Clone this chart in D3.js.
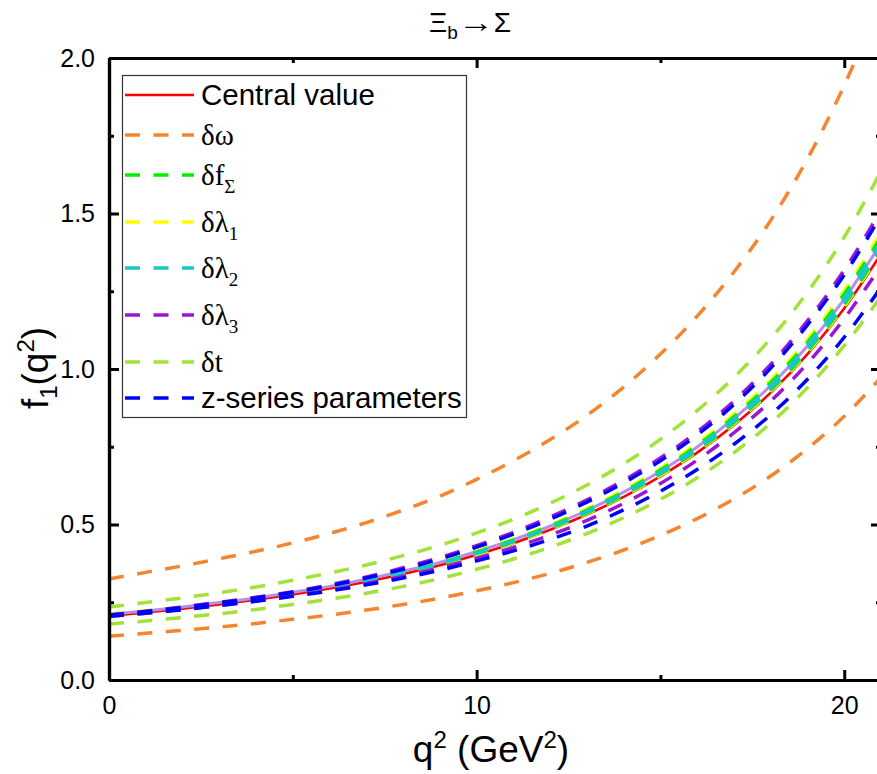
<!DOCTYPE html>
<html>
<head>
<meta charset="utf-8">
<script src="https://cdn.jsdelivr.net/npm/d3@7/dist/d3.min.js"></script>
<style>
  html, body { margin: 0; padding: 0; background: #fff; }
  svg { display: block; }
</style>
</head>
<body>
<svg id="chart" width="877" height="774"></svg>
<script>
// ---------------- data ----------------
const q2 = [0,1,2,3,4,5,6,7,8,9,10,11,12,13,14,15,16,17,18,19,20,21];

const central   = [0.206,0.217,0.229,0.243,0.258,0.275,0.294,0.316,0.341,0.369,0.403,0.440,0.483,0.532,0.589,0.655,0.731,0.820,0.924,1.048,1.195,1.370];
const lavender  = [0.211,0.222,0.235,0.249,0.264,0.282,0.301,0.324,0.350,0.378,0.413,0.451,0.495,0.545,0.604,0.671,0.749,0.841,0.947,1.074,1.225,1.404];

const omegaUp   = [0.325,0.346,0.367,0.390,0.414,0.441,0.471,0.506,0.546,0.591,0.645,0.705,0.773,0.851,0.942,1.048,1.170,1.312,1.478,1.676,1.912,2.190];
const omegaLo   = [0.141,0.150,0.160,0.170,0.182,0.195,0.209,0.225,0.243,0.263,0.287,0.313,0.343,0.378,0.418,0.465,0.519,0.582,0.656,0.744,0.848,0.973];

const fSigUp    = [0.209,0.220,0.232,0.246,0.262,0.279,0.298,0.321,0.347,0.376,0.412,0.450,0.495,0.546,0.606,0.675,0.754,0.847,0.956,1.086,1.241,1.425];
const fSigLo    = [0.206,0.217,0.229,0.243,0.258,0.275,0.295,0.318,0.344,0.373,0.407,0.444,0.488,0.537,0.595,0.662,0.738,0.828,0.933,1.058,1.207,1.384];

const lam1Up    = [0.212,0.223,0.235,0.249,0.265,0.282,0.301,0.324,0.350,0.379,0.415,0.454,0.499,0.551,0.611,0.680,0.761,0.855,0.965,1.096,1.252,1.439];
const lam1Lo    = [0.203,0.214,0.226,0.240,0.255,0.272,0.291,0.314,0.340,0.369,0.404,0.442,0.485,0.535,0.592,0.658,0.735,0.824,0.929,1.053,1.201,1.377];

const lam2Up    = [0.208,0.219,0.231,0.245,0.261,0.278,0.297,0.320,0.346,0.375,0.409,0.448,0.492,0.543,0.601,0.670,0.748,0.840,0.948,1.077,1.229,1.411];
const lam2Lo    = [0.207,0.218,0.230,0.244,0.260,0.277,0.296,0.319,0.345,0.374,0.409,0.447,0.490,0.540,0.598,0.665,0.742,0.832,0.938,1.064,1.213,1.391];

const lam3Up    = [0.209,0.221,0.235,0.250,0.266,0.284,0.306,0.331,0.361,0.394,0.432,0.475,0.524,0.579,0.642,0.714,0.798,0.897,1.015,1.155,1.318,1.510];
const lam3Lo    = [0.205,0.215,0.227,0.240,0.255,0.271,0.289,0.310,0.334,0.361,0.392,0.426,0.466,0.513,0.568,0.632,0.707,0.795,0.897,1.018,1.162,1.332];

const tUp       = [0.235,0.249,0.264,0.281,0.299,0.321,0.344,0.370,0.400,0.433,0.473,0.517,0.568,0.627,0.695,0.774,0.866,0.973,1.098,1.247,1.424,1.635];
const tLo       = [0.180,0.190,0.201,0.213,0.227,0.243,0.260,0.279,0.301,0.326,0.356,0.389,0.427,0.471,0.522,0.581,0.650,0.731,0.826,0.940,1.075,1.233];

const zUp       = [0.209,0.220,0.233,0.248,0.264,0.282,0.303,0.328,0.356,0.389,0.427,0.469,0.517,0.572,0.634,0.705,0.788,0.886,1.003,1.142,1.303,1.493];
const zLo       = [0.205,0.215,0.226,0.239,0.253,0.269,0.286,0.306,0.328,0.353,0.383,0.415,0.452,0.495,0.547,0.607,0.677,0.758,0.853,0.967,1.102,1.262];

const xTicks = [0, 10, 20];
const xMinor = [5, 15];
const yTicks = [0.0, 0.5, 1.0, 1.5, 2.0];
const yMinor = [0.25, 0.75, 1.25, 1.75];

const legendNames = ["Central value", "δω", "δfΣ", "δλ1", "δλ2", "δλ3", "δt", "z-series parameters"];
const titleParts = ["Ξ", "b", "→", "Σ"];

// ---------------- drawing ----------------
const svg = d3.select("#chart");
const X0 = 109, X1 = 881, Y0 = 680, Y1 = 58;
const x = d3.scaleLinear().domain([0, 21]).range([X0, X1]);
const y = d3.scaleLinear().domain([0, 2]).range([Y0, Y1]);

svg.append("defs").append("clipPath").attr("id", "plotclip")
  .append("rect").attr("x", X0).attr("y", Y1).attr("width", X1 - X0).attr("height", Y0 - Y1);

const line = d3.line().x((d, i) => x(q2[i])).y(d => y(d)).curve(d3.curveMonotoneX);
const plot = svg.append("g").attr("clip-path", "url(#plotclip)");

const DASH = "15,13.5";
const C = {
  red: "#ff0000", orange: "#f5852e", green: "#00f000", yellow: "#ffff00",
  cyan: "#1dc6c6", purple: "#9b17cf", yg: "#a2e23a", blue: "#0000ff", lav: "#b58ee6"
};

const series = [
  {v: central,  c: C.red,    w: 2.6, dash: null},
  {v: lavender, c: C.lav,    w: 3.0, dash: null},
  {v: omegaUp,  c: C.orange, w: 3.5, dash: DASH},
  {v: omegaLo,  c: C.orange, w: 3.5, dash: DASH},
  {v: tUp,      c: C.yg,     w: 3.5, dash: DASH},
  {v: tLo,      c: C.yg,     w: 3.5, dash: DASH},
  {v: lam1Up,   c: C.yellow, w: 3.5, dash: DASH},
  {v: lam1Lo,   c: C.yellow, w: 3.5, dash: DASH},
  {v: fSigUp,   c: C.green,  w: 3.5, dash: DASH},
  {v: fSigLo,   c: C.green,  w: 3.5, dash: DASH},
  {v: lam2Up,   c: C.cyan,   w: 3.5, dash: DASH},
  {v: lam2Lo,   c: C.cyan,   w: 3.5, dash: DASH},
  {v: lam3Lo,   c: C.purple, w: 3.5, dash: DASH},
  {v: lam3Up,   c: C.purple, w: 3.5, dash: DASH},
  {v: zLo,      c: C.blue,   w: 3.5, dash: DASH},
  {v: zUp,      c: C.blue,   w: 3.5, dash: DASH}
];

plot.selectAll("path.s").data(series).join("path")
  .attr("class", "s")
  .attr("d", d => line(d.v))
  .attr("fill", "none")
  .attr("stroke", d => d.c)
  .attr("stroke-width", d => d.w)
  .attr("stroke-dasharray", d => d.dash);

// ---------------- axes ----------------
const FONT = "Arial, 'Liberation Sans', sans-serif";
const SERIF = "'Times New Roman', 'Liberation Serif', serif";

svg.append("g").attr("transform", `translate(0,${Y0})`)
  .call(d3.axisBottom(x).tickValues(xTicks).tickFormat(d3.format("d")).tickSizeInner(-10).tickSizeOuter(0).tickPadding(16));
svg.append("g").attr("transform", `translate(${X0},0)`)
  .call(d3.axisLeft(y).tickValues(yTicks).tickFormat(d3.format(".1f")).tickSizeInner(-10).tickSizeOuter(0).tickPadding(14));
svg.append("g").attr("transform", `translate(0,${Y1})`)
  .call(d3.axisTop(x).tickValues(xTicks).tickFormat("").tickSizeInner(-10).tickSizeOuter(0));
svg.append("g").attr("transform", `translate(${X1},0)`)
  .call(d3.axisRight(y).tickValues(yTicks).tickFormat("").tickSizeInner(-10).tickSizeOuter(0));
// minor ticks
svg.append("g").attr("transform", `translate(0,${Y0})`)
  .call(d3.axisBottom(x).tickValues(xMinor).tickFormat("").tickSizeInner(-5).tickSizeOuter(0));
svg.append("g").attr("transform", `translate(0,${Y1})`)
  .call(d3.axisTop(x).tickValues(xMinor).tickFormat("").tickSizeInner(-5).tickSizeOuter(0));
svg.append("g").attr("transform", `translate(${X0},0)`)
  .call(d3.axisLeft(y).tickValues(yMinor).tickFormat("").tickSizeInner(-5).tickSizeOuter(0));
svg.append("g").attr("transform", `translate(${X1},0)`)
  .call(d3.axisRight(y).tickValues(yMinor).tickFormat("").tickSizeInner(-5).tickSizeOuter(0));

svg.selectAll(".domain").attr("stroke", "#000").attr("stroke-width", 3.2);
svg.selectAll(".tick line").attr("stroke", "#000").attr("stroke-width", 3);
svg.selectAll(".tick text").attr("font-family", FONT).attr("font-size", 25).attr("fill", "#000");

// axis titles
const xt = svg.append("text").attr("x", 491).attr("y", 762).attr("text-anchor", "middle")
  .attr("font-family", FONT).attr("font-size", 37).attr("fill", "#000");
xt.append("tspan").text("q");
xt.append("tspan").attr("font-size", 24).attr("dy", -14).text("2");
xt.append("tspan").attr("dy", 14).text(" (GeV");
xt.append("tspan").attr("font-size", 24).attr("dy", -14).text("2");
xt.append("tspan").attr("dy", 14).text(")");

const yt = svg.append("text").attr("transform", "translate(48,368) rotate(-90)").attr("text-anchor", "middle")
  .attr("font-family", FONT).attr("font-size", 37).attr("fill", "#000");
yt.append("tspan").text("f");
yt.append("tspan").attr("font-size", 24).attr("dy", 9).text("1");
yt.append("tspan").attr("dy", -9).text("(q");
yt.append("tspan").attr("font-size", 24).attr("dy", -14).text("2");
yt.append("tspan").attr("dy", 14).text(")");

// title
const tt = svg.append("text").attr("x", 470).attr("y", 32).attr("text-anchor", "middle")
  .attr("font-family", FONT).attr("font-size", 28).attr("fill", "#000");
tt.append("tspan").text(titleParts[0]);
tt.append("tspan").attr("font-size", 19).attr("dy", 7).text(titleParts[1]);
tt.append("tspan").attr("dy", -7).attr("textLength", 36).attr("lengthAdjust", "spacingAndGlyphs").text(titleParts[2]);
tt.append("tspan").text(titleParts[3]);

// ---------------- legend ----------------
const legendY = [95, 135, 175, 222, 268, 315, 362, 398];
const legendStyle = [
  {c: C.red, dash: null, w: 2.6},
  {c: C.orange, dash: DASH, w: 3.5},
  {c: C.green, dash: DASH, w: 3.5},
  {c: C.yellow, dash: DASH, w: 3.5},
  {c: C.cyan, dash: DASH, w: 3.5},
  {c: C.purple, dash: DASH, w: 3.5},
  {c: C.yg, dash: DASH, w: 3.5},
  {c: C.blue, dash: DASH, w: 3.5}
];
const lg = svg.append("g");
lg.append("rect").attr("x", 122.5).attr("y", 75.5).attr("width", 344).attr("height", 342)
  .attr("fill", "#fff").attr("stroke", "#333").attr("stroke-width", 1.2);

legendNames.forEach((name, i) => {
  const yy = legendY[i];
  const st = legendStyle[i];
  lg.append("line").attr("x1", 125).attr("x2", 194).attr("y1", yy).attr("y2", yy)
    .attr("stroke", st.c).attr("stroke-width", st.w).attr("stroke-dasharray", st.dash);
  const t = lg.append("text").attr("x", 201).attr("y", yy + 10).attr("fill", "#000");
  if (name.startsWith("δ")) {
    t.attr("font-family", SERIF).attr("font-size", 29);
    const main = name.slice(0, 2);
    const sub = name.slice(2);
    t.append("tspan").text(main);
    if (sub) t.append("tspan").attr("font-size", 19).attr("dy", 8).text(sub);
  } else {
    t.attr("font-family", FONT).attr("font-size", 29.5).text(name);
  }
});
</script>
</body>
</html>
